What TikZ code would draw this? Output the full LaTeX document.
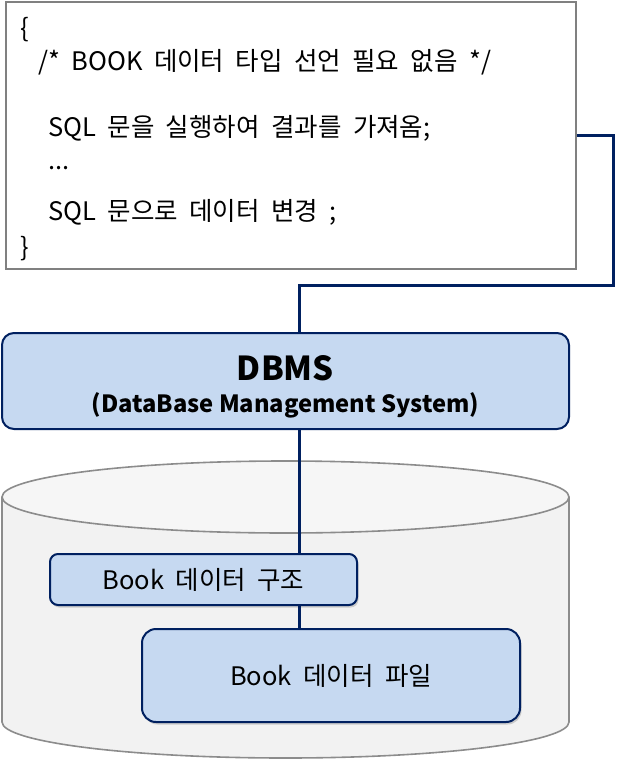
\documentclass[tikz,border=0pt]{standalone}
\usepackage{fontspec}
\setmainfont{Noto Sans CJK KR}[WordSpace=2.0]
\newfontfamily\titlefont{Noto Sans CJK KR}
\usetikzlibrary{shadows}
\definecolor{navy}{HTML}{002060}
\definecolor{boxblue}{HTML}{C6D9F1}
\definecolor{cylside}{HTML}{F2F2F2}
\definecolor{cyltop}{HTML}{F6F6F6}
\definecolor{cylline}{HTML}{8C8C8C}
\tikzset{
  codebox/.style={draw=black!50, line width=2pt, fill=white, inner sep=0pt},
  bluebox/.style={draw=navy, line width=2pt, fill=boxblue, inner sep=0pt},
  shadowed/.style={drop shadow={opacity=0.35, shadow xshift=1.5pt, shadow yshift=-2.5pt}},
  link/.style={draw=navy, line width=3pt},
  codetxt/.style={anchor=west, inner sep=0pt, font=\fontsize{25.5}{29}\selectfont},
  boxtxt/.style={font=\fontsize{25.5}{29}\selectfont},
}
\begin{document}
\begin{tikzpicture}[x=1pt, y=-1pt]
\useasboundingbox (0,0) rectangle (616,759);
% cylinder
\path[fill=cylside, draw=cylline, line width=1.6pt]
  (2,497) -- (2,722) arc[start angle=180, end angle=0, x radius=283.5, y radius=36] -- (569,497);
\path[fill=cyltop, draw=cylline, line width=1.6pt] (285.5,497) ellipse[x radius=283.5, y radius=36];
% code box
\node[codebox, minimum width=570, minimum height=267] (code) at (291,135.5) {};
\node[codetxt] (l1) at (20,30) {\{};
\node[codetxt] (l2) at (38,62) {/* BOOK 데이터 타입 선언 필요 없음 */};
\node[codetxt] (l3) at (48,128) {SQL 문을 실행하여 결과를 가져옴;};
\node[codetxt] (l4) at (48,168) {...};
\node[codetxt] (l5) at (48,212) {SQL 문으로 데이터 변경 ;};
\node[codetxt] (l6) at (20,249) {\}};
% DBMS
\node[bluebox, rounded corners=12pt, minimum width=567, minimum height=96] (dbms) at (285.5,381) {};
\node[inner sep=0pt, font=\titlefont\fontsize{33}{36}\selectfont\bfseries] (dbmst) at (285.5,368) {DBMS};
\node[inner sep=0pt, font=\titlefont\fontsize{23.7}{26}\selectfont\bfseries] (dbmss) at (285.5,405) {(DataBase Management System)};
% inner boxes
\node[bluebox, shadowed, rounded corners=8pt, minimum width=307, minimum height=51, boxtxt] (struct) at (203.5,579.5) {Book 데이터 구조};
\node[bluebox, shadowed, rounded corners=14pt, minimum width=378, minimum height=93, boxtxt] (file) at (331,675.5) {Book 데이터 파일};
% connectors
\coordinate (bend) at (613,285);
\coordinate (dbmsin) at (299,333);
\draw[link] (code.east) -| (bend) -| (dbmsin);
\draw[link] (dbms.south -| dbmsin) -- (dbmsin |- struct.north);
\draw[link] (dbmsin |- struct.south) -- (dbmsin |- file.north);
\end{tikzpicture}
\end{document}
